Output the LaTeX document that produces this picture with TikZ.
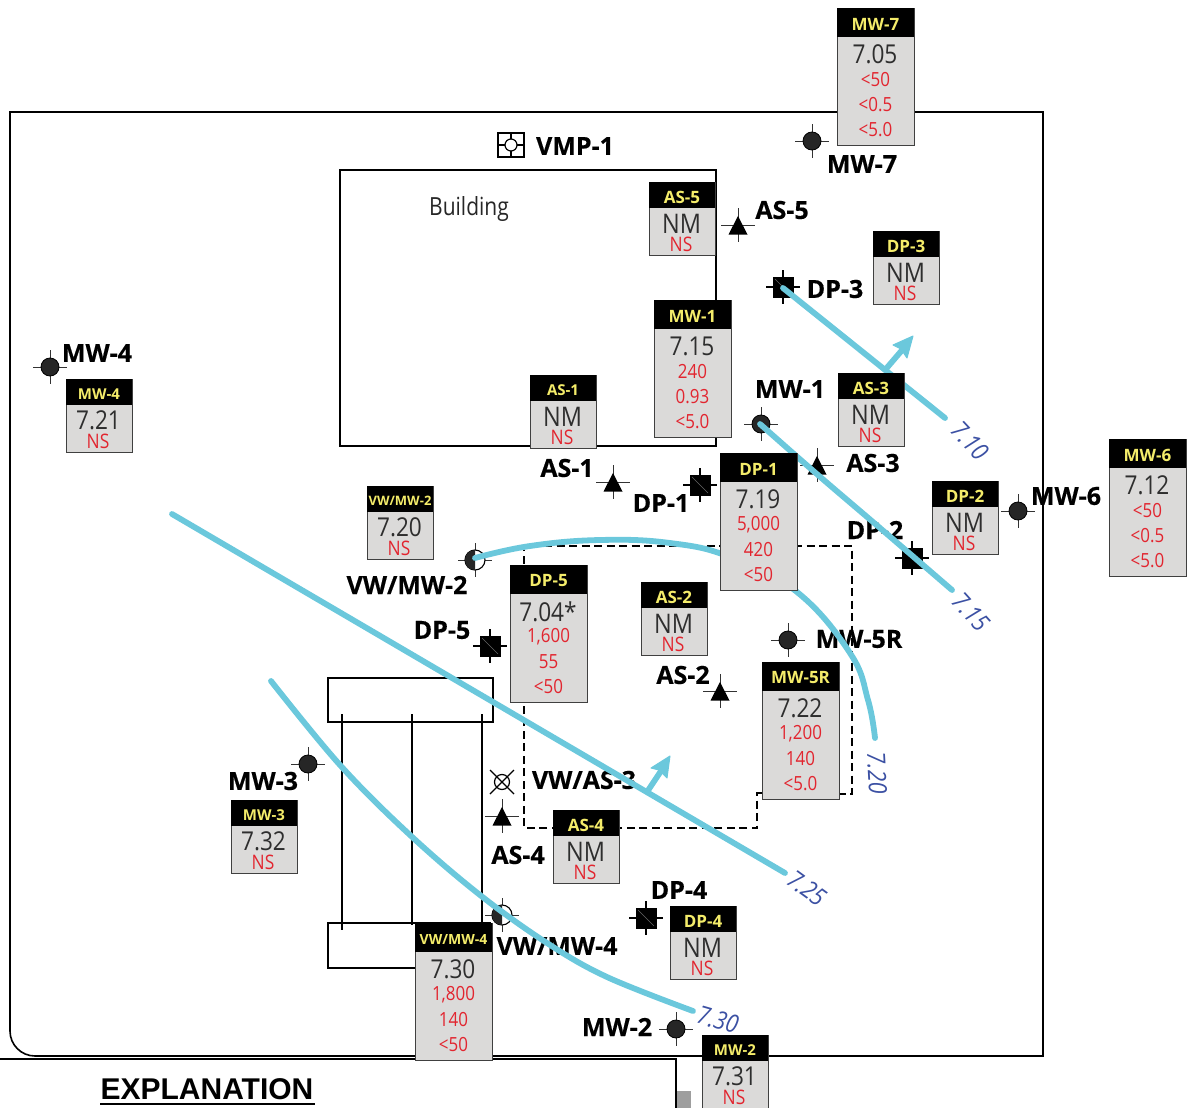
\documentclass[tikz,border=0pt]{standalone}
\usepackage{fontspec}
\setmainfont{Open Sans}
\newfontfamily\arialish{Liberation Sans}
\newfontfamily\narrowf[FakeStretch=0.87]{Open Sans}
\usetikzlibrary{shapes.geometric}
\definecolor{boxgray}{HTML}{DBDAD9}
\definecolor{contour}{HTML}{6BC8DC}
\definecolor{valred}{HTML}{E2252F}
\definecolor{valdark}{HTML}{2E2E2E}
\definecolor{titleyellow}{HTML}{F4EC6A}
\definecolor{cblue}{HTML}{3B50A3}
\newcommand{\fsz}[1]{\fontsize{#1}{#1}\selectfont}
\tikzset{
  line/.style={draw=black,line width=1.6pt},
  databody/.style={draw=black!75,line width=1.4pt,fill=boxgray,anchor=north west,inner sep=0pt,minimum width=#1},
  datahead/.style={fill=black,anchor=north west,inner sep=0pt,minimum width=#1},
  ttl/.style={text=titleyellow,font=\fsz{17}\bfseries,inner sep=0pt},
  val/.style={text=valdark,font=\narrowf\fsz{26},inner sep=0pt},
  nmt/.style={text=valdark,font=\narrowf\fsz{27},inner sep=0pt},
  red/.style={text=valred,font=\narrowf\fsz{19.5},inner sep=0pt},
  wlabel/.style={font=\fsz{25}\bfseries\addfontfeature{FakeBold=0.4},text=black,inner sep=0pt},
  clabel/.style={font=\narrowf\fsz{25}\itshape,text=cblue,inner sep=0pt},
  cline/.style={draw=contour,line width=5.8pt,line cap=round,line join=round},
  hair/.style={draw=black!80,line width=0.6pt},
  hairb/.style={draw=black,line width=1.2pt},
  dashline/.style={draw=black,line width=1.7pt,dash pattern=on 8pt off 4.5pt}
}
% tall data box: id, x, y, title, v, a, b, c
\newcommand{\tallbox}[8]{\begin{scope}[shift={(#2,#3)}]
  \node[databody=76.5pt,minimum height=136.5pt] (#1) at (0,0) {};
  \node[datahead=76.5pt,minimum height=29pt] (#1h) at (0,0) {};
  \node[ttl] (#1t) at (38.5,16) {#4};
  \node[val] (#1v) at (38,46.5) {#5};
  \node[red] (#1a) at (38.5,72) {#6};
  \node[red] (#1b) at (38.5,97) {#7};
  \node[red] (#1c) at (38.5,122) {#8};
\end{scope}}
% small data box: id, x, y, title, v (style), text
\newcommand{\smallbox}[6]{\begin{scope}[shift={(#2,#3)}]
  \node[databody=65.5pt,minimum height=72.5pt] (#1) at (0,0) {};
  \node[datahead=65.5pt,minimum height=26pt] (#1h) at (0,0) {};
  \node[ttl] (#1t) at (33,15) {#4};
  \node[#5] (#1v) at (32.5,41.5) {#6};
  \node[red,font=\narrowf\fsz{20}] (#1n) at (32,62) {NS};
\end{scope}}
\newcommand{\hairs}{\draw[hair] (-17,0) -- (17,0); \draw[hair] (0,-17) -- (0,17);}
\newcommand{\wellsym}[3]{\begin{scope}[shift={(#2,#3)}]\hairs
  \node[circle,fill=black!85,draw=black,line width=0.8pt,minimum size=18pt,inner sep=0pt] (#1) at (0,0) {};\end{scope}}
\newcommand{\assym}[3]{\begin{scope}[shift={(#2,#3)}]\hairs
  \fill[black] (0,-9) -- (9.5,9.5) -- (-9.5,9.5) -- cycle;
  \coordinate (#1) at (0,0);\end{scope}}
\newcommand{\dpsym}[3]{\begin{scope}[shift={(#2,#3)}]
  \draw[hairb] (-17,0) -- (17,0); \draw[hairb] (0,-17) -- (0,17);
  \node[fill=black,minimum size=21pt,inner sep=0pt] (#1) at (0,0) {};
  \draw[black!60,line width=0.5pt] (-8,-8) -- (8,8);\end{scope}}
\newcommand{\vwsym}[3]{\begin{scope}[shift={(#2,#3)}]\hairs
  \node[circle,draw=black,fill=white,line width=1.1pt,minimum size=20pt,inner sep=0pt] (#1) at (0,0) {};
  \fill[black!85] (0,-10) arc[start angle=270,end angle=90,radius=10] -- cycle;\end{scope}}
\begin{document}
\begin{tikzpicture}[x=1pt,y=-1pt]
\useasboundingbox (0,0) rectangle (1195,1108);
% site boundary
\draw[line] (10,1031) -- (10,112) -- (1043,112) -- (1043,1056) -- (35,1056) arc[start angle=90,end angle=180,radius=25];
% explanation frame
\draw[draw=black,line width=2.6pt] (0,1059) -- (676,1059) -- (676,1108);
\fill[black!38] (677,1091) rectangle (691,1108);
\node[font=\arialish\fsz{30}\bfseries,inner sep=0pt] (expl) at (207,1089) {EXPLANATION};
\draw[draw=black,line width=1.8pt] (100,1104) -- (315,1104);
% building
\draw[line] (340,170) rectangle (716,446);
\node[font=\fsz{25},xscale=0.84,transform shape,inner sep=0pt,text=black!85] (bldg) at (469,209) {Building};
% structure
\draw[line] (328,678) rectangle (493,722);
\draw[line] (328,923) rectangle (490,968);
\draw[line] (342,714) -- (342,930);
\draw[line] (412,714) -- (412,925);
\draw[line] (482,714) -- (482,925);
% dashed area
\draw[dashline] (762,793) -- (757,793) -- (757,828) -- (524,828) -- (524,546) -- (852,546) -- (852,794) -- (839,794);
% VMP-1
\draw[draw=black,line width=1.6pt] (498,133) rectangle (524,157);
\draw[draw=black,line width=1.2pt] (498,145) -- (524,145);
\draw[draw=black,line width=1.2pt] (511,133) -- (511,157);
\node[circle,draw=black,fill=white,line width=1.2pt,minimum size=12pt,inner sep=0pt] (vmp) at (511,145) {};
% well symbols
\wellsym{sMW7}{812}{141}
\wellsym{sMW1}{761}{424}
\wellsym{sMW4}{50}{367}
\wellsym{sMW3}{308}{764}
\wellsym{sMW2}{676}{1029}
\wellsym{sMW6}{1018}{511}
\wellsym{sMW5}{788}{640}
\assym{sAS5}{738}{225}
\assym{sAS1}{613}{482}
\assym{sAS3}{817}{465}
\assym{sAS2}{720}{691}
\assym{sAS4}{502}{816}
\dpsym{sDP3}{783}{287}
\dpsym{sDP1}{700}{485}
\dpsym{sDP2}{912}{558}
\dpsym{sDP5}{490}{646}
\dpsym{sDP4}{646}{918}
\vwsym{sVW2}{475}{560}
\vwsym{sVW4}{502}{915}
% VW/AS-3
\node[circle,draw=black,line width=1.2pt,minimum size=15pt,inner sep=0pt] (sVA3) at (502,782) {};
\draw[draw=black,line width=1.2pt] (490,770) -- (514,794);
\draw[draw=black,line width=1.2pt] (514,770) -- (490,794);
% well labels
\node[wlabel] (lVMP) at (575,146) {VMP-1};
\node[wlabel] (lMW7) at (862,164) {MW-7};
\node[wlabel] (lAS5) at (782,210) {AS-5};
\node[wlabel] (lDP3) at (835,289) {DP-3};
\node[wlabel] (lMW1) at (790,389) {MW-1};
\node[wlabel] (lAS3) at (873,463) {AS-3};
\node[wlabel] (lAS1) at (567,468) {AS-1};
\node[wlabel] (lDP1) at (661,503) {DP-1};
\node[wlabel] (lMW6) at (1066,496) {MW-6};
\node[wlabel] (lDP2) at (875,530) {DP-2};
\node[wlabel] (lMW5) at (859,639) {MW-5R};
\node[wlabel] (lAS2) at (683,675) {AS-2};
\node[wlabel] (lVW2) at (407,585) {VW/MW-2};
\node[wlabel] (lDP5) at (442,630) {DP-5};
\node[wlabel] (lVA3) at (584,780) {VW/AS-3};
\node[wlabel] (lAS4) at (518,855) {AS-4};
\node[wlabel] (lDP4) at (679,890) {DP-4};
\node[wlabel] (lVW4) at (557,946) {VW/MW-4};
\node[wlabel] (lMW2) at (617,1027) {MW-2};
\node[wlabel] (lMW3) at (263,781) {MW-3};
\node[wlabel] (lMW4) at (97,353) {MW-4};
% contours
\draw[cline] (783,288) -- (945,418);
\draw[cline] plot[smooth,tension=0.6] coordinates {(760,424) (818,475) (880,528) (952,590)};
\draw[cline] plot[smooth,tension=0.7] coordinates {(475,558) (530,546) (600,540) (670,543) (730,557) (797,592) (850,653) (868,700) (875,738)};
\draw[cline] (172,514) -- (785,873);
\draw[cline] plot[smooth,tension=0.6] coordinates {(271,681) (340,765) (410,835) (480,895) (547,943) (607,977) (693,1011)};
% flow arrows
\draw[draw=contour,line width=5.8pt] (885,370) -- (903,349);
\fill[contour,draw=contour,line join=round,line width=1pt] (913,336) -- (907,358) -- (901,349) -- (893,345) -- cycle;
\draw[draw=contour,line width=5.8pt] (647,792) -- (661,771);
\fill[contour,draw=contour,line join=round,line width=1pt] (670,756) -- (667,778) -- (659,770) -- (651,768) -- cycle;
% contour labels
\node[clabel,rotate=-47] (c710) at (970,441) {7.10};
\node[clabel,rotate=-48] (c715) at (971,612) {7.15};
\node[clabel,rotate=-87] (c720) at (877,773) {7.20};
\node[clabel,rotate=-36] (c725) at (807,888) {7.25};
\node[clabel,rotate=-16] (c730) at (718,1020) {7.30};
% data boxes
\tallbox{bMW7}{837}{8}{MW-7}{7.05}{<50}{<0.5}{<5.0}
\tallbox{bMW1}{654}{300}{MW-1}{7.15}{240}{0.93}{<5.0}
\tallbox{bDP1}{720}{453}{DP-1}{7.19}{5,000}{420}{<50}
\tallbox{bMW6}{1109}{439}{MW-6}{7.12}{<50}{<0.5}{<5.0}
\tallbox{bDP5}{510}{565}{DP-5}{7.04*}{1,600}{55}{<50}
\tallbox{bMW5}{762}{662}{MW-5R}{7.22}{1,200}{140}{<5.0}
\tallbox{bVW4}{415}{923}{\fsz{14}VW/MW-4}{7.30}{1,800}{140}{<50}
\smallbox{bAS5}{649}{182}{AS-5}{nmt}{NM}
\smallbox{bDP3}{873}{231}{DP-3}{nmt}{NM}
\smallbox{bAS1}{530}{375}{\fsz{15}AS-1}{nmt}{NM}
\smallbox{bAS3}{838}{373}{AS-3}{nmt}{NM}
\smallbox{bDP2}{932}{481}{DP-2}{nmt}{NM}
\smallbox{bAS2}{641}{582}{AS-2}{nmt}{NM}
\smallbox{bAS4}{553}{810}{AS-4}{nmt}{NM}
\smallbox{bDP4}{670}{906}{DP-4}{nmt}{NM}
\smallbox{bMW4}{66}{379}{\fsz{15}MW-4}{val}{7.21}
\smallbox{bVW2}{367}{486}{\fsz{13}VW/MW-2}{val}{7.20}
\smallbox{bMW3}{231}{800}{\fsz{15}MW-3}{val}{7.32}
\smallbox{bMW2}{702}{1035}{\fsz{15}MW-2}{val}{7.31}
\end{tikzpicture}
\end{document}
